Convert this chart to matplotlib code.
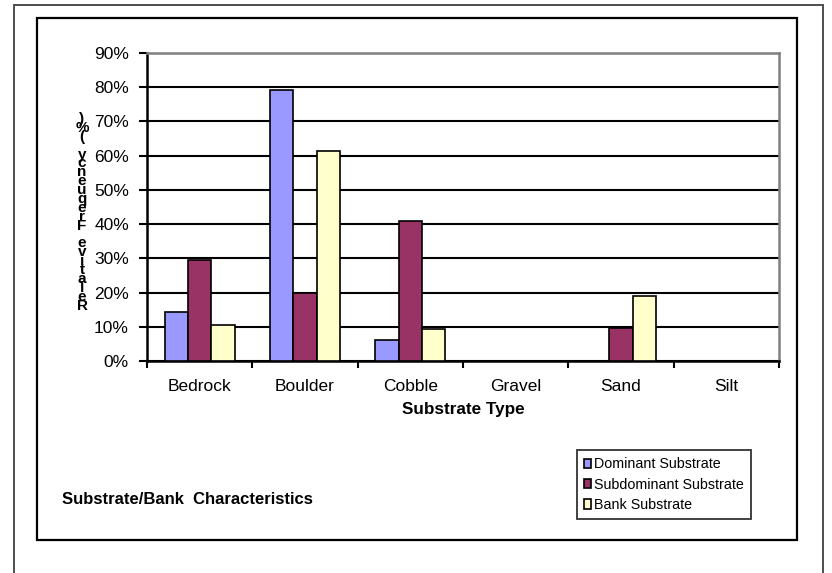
import matplotlib
matplotlib.use("Agg")
import matplotlib.pyplot as plt
from matplotlib.patches import Rectangle, Patch
import numpy as np

plt.rcParams['font.family'] = ['Liberation Sans', 'DejaVu Sans']

categories = ["Bedrock", "Boulder", "Cobble", "Gravel", "Sand", "Silt"]
dominant = [14.3, 79.3, 6.1, 0, 0, 0]
subdominant = [29.5, 20.0, 40.9, 0, 9.5, 0]
bank = [10.5, 61.4, 9.4, 0, 19.0, 0]
series_names = ["Dominant Substrate", "Subdominant Substrate", "Bank Substrate"]
series_colors = ["#9999FF", "#993366", "#FFFFCC"]
y_ticks = [0, 10, 20, 30, 40, 50, 60, 70, 80, 90]
y_label = "Relative Frequency (%)"
x_label = "Substrate Type"
note = "Substrate/Bank  Characteristics"

W, H = 832, 573
fig = plt.figure(figsize=(W / 100, H / 100), dpi=100)

def fx(px):
    return px / W

def fy(py):
    return 1 - py / H

# Outer and inner frames
fig.patches.append(Rectangle((fx(14), fy(590)), fx(823) - fx(14), fy(5) - fy(590),
                             transform=fig.transFigure, fill=False, edgecolor="#404040",
                             linewidth=1.3, zorder=0))
fig.patches.append(Rectangle((fx(37), fy(540)), fx(797) - fx(37), fy(18) - fy(540),
                             transform=fig.transFigure, fill=False, edgecolor="black",
                             linewidth=1.6, zorder=0))

ax = fig.add_axes([fx(147), fy(361), fx(779) - fx(147), fy(53) - fy(361)])
x = np.arange(len(categories))
bw = 0.222
for i, (vals, c, name) in enumerate(zip([dominant, subdominant, bank], series_colors, series_names)):
    ax.bar(x + (i - 1) * bw, vals, width=bw, color=c, edgecolor="black",
           linewidth=1.2, label=name, zorder=3)

ax.set_xlim(-0.5, len(categories) - 0.5)
ax.set_ylim(0, 90)
ax.set_yticks(y_ticks)
ax.set_yticklabels([f"{v}%" for v in y_ticks], fontsize=12.5)
ax.set_xticks(x)
ax.set_xticklabels(categories, fontsize=12.5)
ax.set_xticks(np.arange(len(categories) + 1) - 0.5, minor=True)
ax.tick_params(axis='x', which='major', length=0, pad=13)
ax.tick_params(axis='x', which='minor', length=5, width=1.5, direction='out')
ax.tick_params(axis='y', length=6, width=1.5, direction='out', pad=7)
ax.yaxis.grid(True, color="black", linewidth=1.5, zorder=1)
ax.set_axisbelow(True)
for s in ['left', 'bottom']:
    ax.spines[s].set_color('black')
    ax.spines[s].set_linewidth(1.8)
for s in ['top', 'right']:
    ax.spines[s].set_color('#808080')
    ax.spines[s].set_linewidth(1.8)

ax.set_xlabel(x_label, fontsize=12.3, fontweight='bold', labelpad=6)

# Stacked y-axis label: characters stacked bottom-to-top, upright
stacked = "\n".join(reversed(y_label))
fig.text(fx(82), fy(112), stacked, fontsize=11, fontweight='bold',
         ha='center', va='top', multialignment='center', linespacing=0.535)

fig.text(fx(62), fy(500), note, fontsize=12, fontweight='bold', ha='left', va='center')

handles = [Patch(facecolor=c, edgecolor='black', linewidth=1.2, label=n)
           for c, n in zip(series_colors, series_names)]
leg = fig.legend(handles=handles, loc='upper left',
                 bbox_to_anchor=(fx(577), fy(450)), bbox_transform=fig.transFigure,
                 borderaxespad=0, frameon=True, fancybox=False, shadow=False,
                 fontsize=10.3, handlelength=0.5, handleheight=0.6, handletextpad=0.2,
                 labelspacing=0.45, borderpad=0.5)
leg.get_frame().set_edgecolor('black')
leg.get_frame().set_linewidth(1.3)

fig.savefig("out.png", dpi=100)
